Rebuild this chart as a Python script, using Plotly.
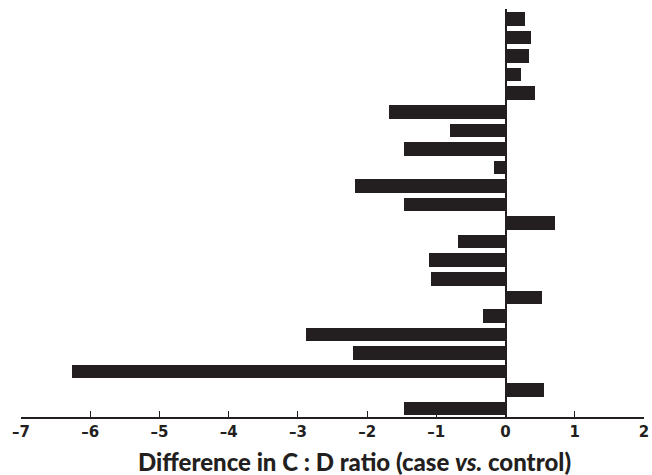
import plotly.graph_objects as go

# Bars from top to bottom
values = [0.28, 0.37, 0.34, 0.22, 0.42, -1.68, -0.80, -1.47, -0.16, -2.18, -1.47,
          0.72, -0.68, -1.10, -1.08, 0.53, -0.32, -2.89, -2.21, -6.27, 0.55, -1.46]
positions = list(range(len(values)))
tick_vals = [-7, -6, -5, -4, -3, -2, -1, 0, 1, 2]
tick_text = ["–7", "–6", "–5", "–4", "–3", "–2", "–1", "0", "1", "2"]
x_title = "Difference in C : D ratio (case <i>vs.</i> control)"

fig = go.Figure()
fig.add_trace(go.Bar(
    x=values, y=positions, orientation="h",
    marker=dict(color="#231f20", line=dict(width=0)),
    width=0.73, showlegend=False,
))

fig.update_layout(
    width=652, height=475,
    margin=dict(l=21, r=8, t=9, b=58, autoexpand=False),
    paper_bgcolor="white", plot_bgcolor="white",
    font=dict(family="Lato", color="#231f20"),
    bargap=0,
    annotations=[dict(
        text=x_title, xref="paper", yref="paper",
        x=0.5, y=0, xshift=22, yshift=-28, xanchor="center", yanchor="top", showarrow=False,
        font=dict(size=24, family="Lato", color="#231f20", weight=900),
    )],
    xaxis=dict(
        range=[-7, 2], tickmode="array", tickvals=tick_vals,
        ticktext=["<b>" + t + "</b>" for t in tick_text],
        ticks="inside", ticklen=6, tickwidth=1.3, tickcolor="#231f20",
        showline=True, linecolor="#231f20", linewidth=1.5,
        showgrid=False, automargin=False,
        zeroline=True, zerolinecolor="#231f20", zerolinewidth=1.5,
        tickfont=dict(size=15, family="DejaVu Sans", color="#231f20", weight="bold"),
    ),
    yaxis=dict(
        range=[21.45, -0.54], showticklabels=False, showgrid=False,
        zeroline=False, showline=False, ticks="", automargin=False,
    ),
)

fig.write_html("out.html", config={"displayModeBar": False},
               post_script="document.body.style.margin='0';document.body.style.overflow='hidden';")
